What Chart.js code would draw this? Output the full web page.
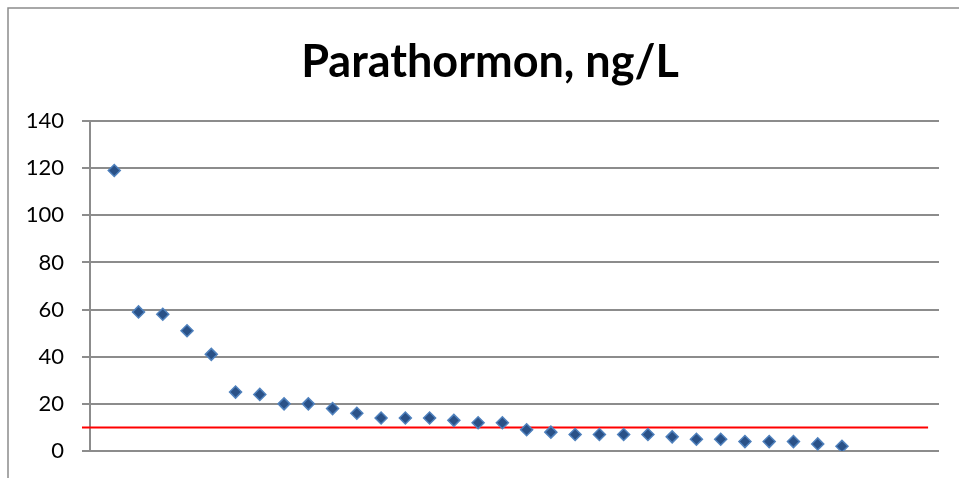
<!DOCTYPE html>
<html>
<head>
<meta charset="utf-8">
<script src="https://cdn.jsdelivr.net/npm/chart.js@4/dist/chart.umd.min.js"></script>
<style>
  html, body { margin: 0; padding: 0; background: #fff; }
  #wrap { position: relative; width: 959px; height: 478px; }
</style>
</head>
<body>
<div id="wrap"><canvas id="c" width="959" height="478"></canvas></div>
<script>
const titleText = "Parathormon, ng/L";
const categories = [1,2,3,4,5,6,7,8,9,10,11,12,13,14,15,16,17,18,19,20,21,22,23,24,25,26,27,28,29,30,31];
const values = [119,59,58,51,41,25,24,20,20,18,16,14,14,14,13,12,12,9,8,7,7,7,7,6,5,5,4,4,4,3,2];
const yTicks = [0,20,40,60,80,100,120,140];
const thresholdValue = 10;
const thresholdRange = [-0.33, 34.55];
const xRange = [0, 35];

const framePlugin = {
  id: 'frame',
  beforeDraw(chart) {
    const ctx = chart.ctx;
    ctx.save();
    ctx.fillStyle = '#fff';
    ctx.fillRect(0, 0, chart.width, chart.height);
    ctx.strokeStyle = '#8c8c8c';
    ctx.lineWidth = 1.5;
    ctx.beginPath();
    ctx.moveTo(8, chart.height);
    ctx.lineTo(8, 8);
    ctx.lineTo(chart.width, 8);
    ctx.stroke();
    ctx.restore();
  },
  afterLayout(chart) {
    if (chart.titleBlock) {
      chart.titleBlock.left = 41;
    }
  }
};

new Chart(document.getElementById('c'), {
  type: 'scatter',
  data: {
    datasets: [
      {
        type: 'line',
        label: 'threshold',
        data: thresholdRange.map(x => ({ x: x, y: thresholdValue })),
        borderColor: '#ff0000',
        borderWidth: 2,
        pointRadius: 0,
        clip: false,
        order: 2
      },
      {
        label: titleText,
        data: categories.map((c, i) => ({ x: c, y: values[i] })),
        pointStyle: 'rectRot',
        pointRadius: 6,
        pointBackgroundColor: '#2a5187',
        pointBorderColor: '#4f81bd',
        pointBorderWidth: 1.5,
        showLine: false,
        order: 1
      }
    ]
  },
  options: {
    responsive: false,
    animation: false,
    layout: { padding: { left: 0, right: 20, top: 0, bottom: 27 } },
    plugins: {
      legend: { display: false },
      tooltip: { enabled: false },
      title: {
        display: true,
        text: titleText,
        color: '#000',
        font: { family: 'Lato', size: 45, weight: 'bold' },
        padding: { top: 35, bottom: 32 }
      }
    },
    scales: {
      x: {
        type: 'linear',
        min: xRange[0],
        max: xRange[1],
        display: false
      },
      y: {
        min: 0,
        max: 140,
        afterFit(s) { s.width = 90; s.paddingTop = 0; s.paddingBottom = 0; },
        afterBuildTicks(s) { s.ticks = yTicks.map(v => ({ value: v })); },
        ticks: {
          color: '#000',
          font: { family: 'Lato', size: 22 },
          padding: 18
        },
        grid: {
          color: '#8c8c8c',
          lineWidth: 2,
          tickLength: 8,
          drawTicks: true
        },
        border: { display: true, color: '#8c8c8c', width: 2 }
      }
    }
  },
  plugins: [framePlugin]
});
</script>
</body>
</html>
